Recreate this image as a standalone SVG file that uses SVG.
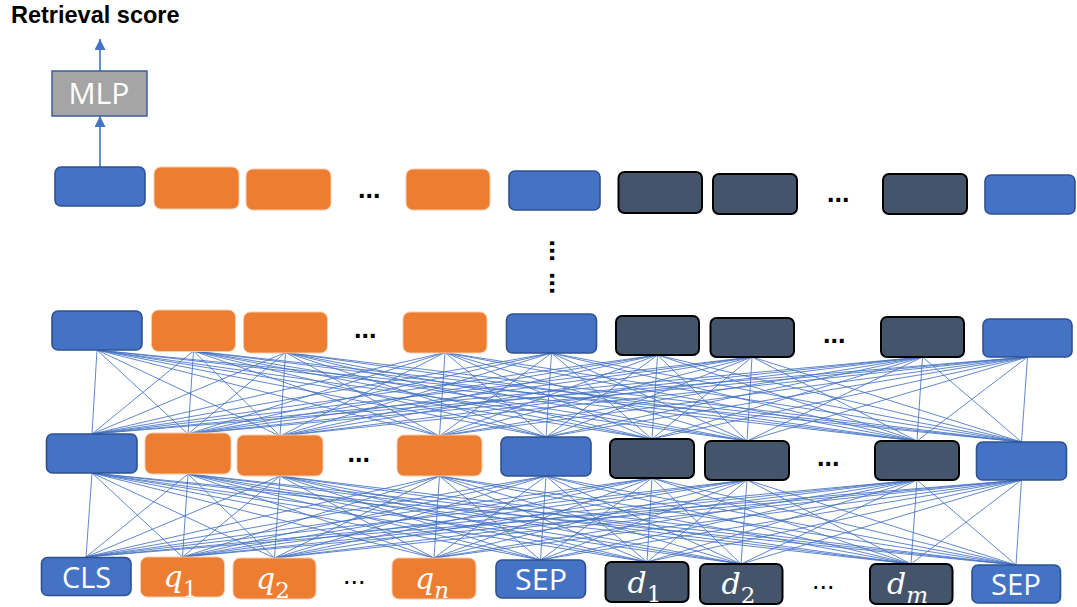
<svg xmlns="http://www.w3.org/2000/svg" width="1077" height="607" viewBox="0 0 1077 607">
  <style>
    .blue { fill: #4472c4; stroke: #2f528f; stroke-width: 1.6; }
    .orange { fill: #ed7d31; stroke: #f8cbad; stroke-width: 1; }
    .dark { fill: #44546a; stroke: #000000; stroke-width: 2; }
    .mlp { fill: #a5a5a5; stroke: #3a5f9e; stroke-width: 1.5; }
    .edge { fill: none; stroke: #4472c4; stroke-width: 0.85; }
    .arrow { fill: none; stroke: #4472c4; stroke-width: 1.6; }
    .title { font-family: "Liberation Sans", Arial, sans-serif; font-weight: bold; font-size: 23.5px; fill: #000; }
    .lbl { font-family: "Open Sans", "Liberation Sans", Arial, sans-serif; font-size: 29px; fill: #ffffff; text-anchor: middle; }
    .math { font-family: "DejaVu Serif", "Liberation Serif", serif; font-style: italic; font-size: 30px; fill: #ffffff; }
    .sub { font-style: normal; font-size: 23px; }
    .subi { font-style: italic; font-size: 23px; }
    .dots { font-family: "Liberation Sans", Arial, sans-serif; font-weight: bold; font-size: 27px; fill: #000; }
    .dotsr { font-family: "Liberation Sans", Arial, sans-serif; font-size: 27px; fill: #000; }
  </style>
  <defs>
    <marker id="head" viewBox="0 0 12 12" refX="12" refY="6" markerWidth="11" markerHeight="11" markerUnits="userSpaceOnUse" orient="auto">
      <path d="M0,0 L12,6 L0,12 z" fill="#4472c4"/>
    </marker>
  </defs>

  <rect width="1077" height="607" fill="#ffffff"/>

  <text class="title" x="11" y="23">Retrieval score</text>

  <!-- full attention between layers -->
  <g id="connectors">
    <g id="layer2-to-layer3">
      <path class="edge" d="M97 350L92 434M97 350L188 434M97 350L280 436M97 350L439.5 436M97 350L546 437M97 350L652 439M97 350L747 441M97 350L917 441M97 350L1021.5 442"/>
      <path class="edge" d="M193.5 351L92 434M193.5 351L188 434M193.5 351L280 436M193.5 351L439.5 436M193.5 351L546 437M193.5 351L652 439M193.5 351L747 441M193.5 351L917 441M193.5 351L1021.5 442"/>
      <path class="edge" d="M285.5 352.5L92 434M285.5 352.5L188 434M285.5 352.5L280 436M285.5 352.5L439.5 436M285.5 352.5L546 437M285.5 352.5L652 439M285.5 352.5L747 441M285.5 352.5L917 441M285.5 352.5L1021.5 442"/>
      <path class="edge" d="M445 352.5L92 434M445 352.5L188 434M445 352.5L280 436M445 352.5L439.5 436M445 352.5L546 437M445 352.5L652 439M445 352.5L747 441M445 352.5L917 441M445 352.5L1021.5 442"/>
      <path class="edge" d="M551.5 353L92 434M551.5 353L188 434M551.5 353L280 436M551.5 353L439.5 436M551.5 353L546 437M551.5 353L652 439M551.5 353L747 441M551.5 353L917 441M551.5 353L1021.5 442"/>
      <path class="edge" d="M657.5 355L92 434M657.5 355L188 434M657.5 355L280 436M657.5 355L439.5 436M657.5 355L546 437M657.5 355L652 439M657.5 355L747 441M657.5 355L917 441M657.5 355L1021.5 442"/>
      <path class="edge" d="M752 357L92 434M752 357L188 434M752 357L280 436M752 357L439.5 436M752 357L546 437M752 357L652 439M752 357L747 441M752 357L917 441M752 357L1021.5 442"/>
      <path class="edge" d="M922.5 357L92 434M922.5 357L188 434M922.5 357L280 436M922.5 357L439.5 436M922.5 357L546 437M922.5 357L652 439M922.5 357L747 441M922.5 357L917 441M922.5 357L1021.5 442"/>
      <path class="edge" d="M1027.5 357L92 434M1027.5 357L188 434M1027.5 357L280 436M1027.5 357L439.5 436M1027.5 357L546 437M1027.5 357L652 439M1027.5 357L747 441M1027.5 357L917 441M1027.5 357L1021.5 442"/>
    </g>
    <g id="layer3-to-input">
      <path class="edge" d="M92 473L86 557M92 473L182.5 557M92 473L274.5 558M92 473L434 558M92 473L540.5 560M92 473L647 562M92 473L741 564M92 473L911 564M92 473L1016 565"/>
      <path class="edge" d="M188 474L86 557M188 474L182.5 557M188 474L274.5 558M188 474L434 558M188 474L540.5 560M188 474L647 562M188 474L741 564M188 474L911 564M188 474L1016 565"/>
      <path class="edge" d="M280 476L86 557M280 476L182.5 557M280 476L274.5 558M280 476L434 558M280 476L540.5 560M280 476L647 562M280 476L741 564M280 476L911 564M280 476L1016 565"/>
      <path class="edge" d="M439.5 476L86 557M439.5 476L182.5 557M439.5 476L274.5 558M439.5 476L434 558M439.5 476L540.5 560M439.5 476L647 562M439.5 476L741 564M439.5 476L911 564M439.5 476L1016 565"/>
      <path class="edge" d="M546 476L86 557M546 476L182.5 557M546 476L274.5 558M546 476L434 558M546 476L540.5 560M546 476L647 562M546 476L741 564M546 476L911 564M546 476L1016 565"/>
      <path class="edge" d="M652 478L86 557M652 478L182.5 557M652 478L274.5 558M652 478L434 558M652 478L540.5 560M652 478L647 562M652 478L741 564M652 478L911 564M652 478L1016 565"/>
      <path class="edge" d="M747 480L86 557M747 480L182.5 557M747 480L274.5 558M747 480L434 558M747 480L540.5 560M747 480L647 562M747 480L741 564M747 480L911 564M747 480L1016 565"/>
      <path class="edge" d="M917 480L86 557M917 480L182.5 557M917 480L274.5 558M917 480L434 558M917 480L540.5 560M917 480L647 562M917 480L741 564M917 480L911 564M917 480L1016 565"/>
      <path class="edge" d="M1021.5 480L86 557M1021.5 480L182.5 557M1021.5 480L274.5 558M1021.5 480L434 558M1021.5 480L540.5 560M1021.5 480L647 562M1021.5 480L741 564M1021.5 480L911 564M1021.5 480L1016 565"/>
    </g>
    <g id="score-arrows">
      <line class="arrow" x1="100" y1="167" x2="100" y2="116" marker-end="url(#head)"/>
      <line class="arrow" x1="100" y1="71" x2="100" y2="39" marker-end="url(#head)"/>
    </g>
  </g>

  <!-- MLP head -->
  <g id="mlp">
    <rect class="mlp" x="52" y="71" width="95" height="45"/>
    <text class="lbl" x="99" y="104.3" textLength="61" lengthAdjust="spacingAndGlyphs">MLP</text>
  </g>

  <!-- top layer -->
  <g id="top-cls"><rect class="blue" x="55" y="167" width="90" height="39" rx="6"/></g>
  <g id="top-q1"><rect class="orange" x="154" y="167" width="85" height="42" rx="7"/></g>
  <g id="top-q2"><rect class="orange" x="246" y="169" width="85" height="41" rx="7"/></g>
  <text class="dots" x="358" y="197.5">...</text>
  <g id="top-qn"><rect class="orange" x="406" y="169" width="84" height="41" rx="7"/></g>
  <g id="top-sep1"><rect class="blue" x="509" y="171" width="91" height="39" rx="6"/></g>
  <g id="top-d1"><rect class="dark" x="618.5" y="172" width="83.5" height="41" rx="6"/></g>
  <g id="top-d2"><rect class="dark" x="713" y="174" width="84" height="40" rx="6"/></g>
  <text class="dots" x="827" y="201.5">...</text>
  <g id="top-dm"><rect class="dark" x="883" y="174" width="84" height="40" rx="6"/></g>
  <g id="top-sep2"><rect class="blue" x="985" y="175" width="90" height="39" rx="6"/></g>

  <!-- stacked layers in between -->
  <text class="dots" font-size="30" transform="translate(550,239.5) rotate(90)">...</text>
  <text class="dots" font-size="30" transform="translate(550,272) rotate(90)">...</text>

  <!-- layer 2 -->
  <g id="l2-cls"><rect class="blue" x="52" y="311" width="90" height="39" rx="6"/></g>
  <g id="l2-q1"><rect class="orange" x="151.5" y="310" width="84" height="41.5" rx="7"/></g>
  <g id="l2-q2"><rect class="orange" x="243.5" y="312" width="84" height="41" rx="7"/></g>
  <text class="dots" x="354" y="338">...</text>
  <g id="l2-qn"><rect class="orange" x="403" y="312" width="84" height="41" rx="7"/></g>
  <g id="l2-sep1"><rect class="blue" x="506.5" y="314" width="90" height="39" rx="6"/></g>
  <g id="l2-d1"><rect class="dark" x="616" y="316" width="83" height="39" rx="6"/></g>
  <g id="l2-d2"><rect class="dark" x="710.5" y="318" width="83.5" height="39" rx="6"/></g>
  <text class="dots" x="823" y="343">...</text>
  <g id="l2-dm"><rect class="dark" x="881" y="317" width="83" height="40" rx="6"/></g>
  <g id="l2-sep2"><rect class="blue" x="983" y="319" width="89" height="38" rx="6"/></g>

  <!-- layer 3 -->
  <g id="l3-cls"><rect class="blue" x="46.5" y="434" width="90.5" height="39" rx="6"/></g>
  <g id="l3-q1"><rect class="orange" x="145" y="433" width="86" height="41" rx="7"/></g>
  <g id="l3-q2"><rect class="orange" x="237" y="435" width="86" height="41" rx="7"/></g>
  <text class="dots" font-size="28" x="347.5" y="461.5">...</text>
  <g id="l3-qn"><rect class="orange" x="397" y="435" width="85" height="41" rx="7"/></g>
  <g id="l3-sep1"><rect class="blue" x="501" y="437" width="90" height="39" rx="6"/></g>
  <g id="l3-d1"><rect class="dark" x="610" y="439" width="84" height="39" rx="6"/></g>
  <g id="l3-d2"><rect class="dark" x="705" y="441" width="84" height="39" rx="6"/></g>
  <text class="dots" font-size="28" x="817" y="466">...</text>
  <g id="l3-dm"><rect class="dark" x="875" y="441" width="84" height="39" rx="6"/></g>
  <g id="l3-sep2"><rect class="blue" x="976.5" y="442" width="90" height="38" rx="6"/></g>

  <!-- input tokens -->
  <g id="in-cls">
    <rect class="blue" x="41.5" y="557.5" width="89.5" height="38" rx="6"/>
    <text class="lbl" x="86.5" y="587.7" textLength="49" lengthAdjust="spacingAndGlyphs">CLS</text>
  </g>
  <g id="in-q1">
    <rect class="orange" x="140.5" y="557" width="84" height="40" rx="7"/>
    <text class="math" x="163.5" y="587">q<tspan class="sub" dx="0" dy="9.5">1</tspan></text>
  </g>
  <g id="in-q2">
    <rect class="orange" x="233" y="558" width="83" height="41" rx="7"/>
    <text class="math" x="256" y="588.5">q<tspan class="sub" dx="0" dy="9.5">2</tspan></text>
  </g>
  <text class="dotsr" x="343" y="584">...</text>
  <g id="in-qn">
    <rect class="orange" x="392" y="558" width="84" height="41" rx="7"/>
    <text class="math" x="415" y="588.5">q<tspan class="subi" dx="0" dy="9.5">n</tspan></text>
  </g>
  <g id="in-sep1">
    <rect class="blue" x="496" y="560" width="89.5" height="38" rx="6"/>
    <text class="lbl" x="541" y="590" textLength="52" lengthAdjust="spacingAndGlyphs">SEP</text>
  </g>
  <g id="in-d1">
    <rect class="dark" x="605.5" y="562" width="83" height="40" rx="6"/>
    <text class="math" x="627.5" y="592.5">d<tspan class="sub" dx="0" dy="9">1</tspan></text>
  </g>
  <g id="in-d2">
    <rect class="dark" x="700" y="564" width="82.5" height="40" rx="6"/>
    <text class="math" x="721.5" y="594">d<tspan class="sub" dx="0" dy="9">2</tspan></text>
  </g>
  <text class="dotsr" x="812" y="589">...</text>
  <g id="in-dm">
    <rect class="dark" x="870" y="564" width="82.5" height="40" rx="6"/>
    <text class="math" x="887" y="594">d<tspan class="subi" dx="0" dy="9">m</tspan></text>
  </g>
  <g id="in-sep2">
    <rect class="blue" x="972" y="565" width="88.5" height="38" rx="6"/>
    <text class="lbl" x="1016" y="595" textLength="50" lengthAdjust="spacingAndGlyphs">SEP</text>
  </g>
</svg>
